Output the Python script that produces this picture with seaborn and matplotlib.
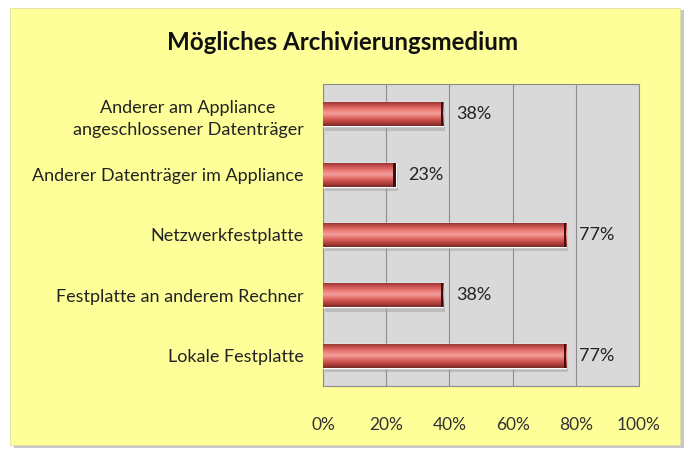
import numpy as np
import pandas as pd
import matplotlib
matplotlib.use('Agg')
import matplotlib.pyplot as plt
import seaborn as sns
from matplotlib.colors import LinearSegmentedColormap
from matplotlib.patches import Rectangle

# Chart data
categories = [
    'Anderer am Appliance\nangeschlossener Datenträger',
    'Anderer Datenträger im Appliance',
    'Netzwerkfestplatte',
    'Festplatte an anderem Rechner',
    'Lokale Festplatte',
]
shares = [38, 23, 77, 38, 77]
x_ticks = [0, 20, 40, 60, 80, 100]
x_tick_labels = ['0%', '20%', '40%', '60%', '80%', '100%']

df = pd.DataFrame({'medium': categories, 'share': shares})

sns.set_theme(style='white')
plt.rcParams['font.family'] = ['Lato', 'DejaVu Sans']

fig = plt.figure(figsize=(6.85, 4.5), dpi=100)
fig.patch.set_facecolor('white')

# yellow chart frame with a soft shadow
fig.patches.append(Rectangle((14 / 685, 2 / 450), 670 / 685, 438 / 450,
                             transform=fig.transFigure, facecolor='#c8c8c8',
                             edgecolor='none', zorder=-2))
fig.patches.append(Rectangle((10 / 685, 5 / 450), 670 / 685, 437 / 450,
                             transform=fig.transFigure, facecolor='#ffff99',
                             edgecolor='#e0e0a0', linewidth=0.6, zorder=-1))

ax = fig.add_axes([323 / 685, 64 / 450, 316 / 685, 302 / 450])
ax.set_facecolor('#d9d9d9')

sns.barplot(data=df, x='share', y='medium', ax=ax, color='#c9524e',
            width=0.4, orient='h', saturation=1, zorder=3)

# glossy bevel-like shading on each bar
cmap = LinearSegmentedColormap.from_list(
    'bevel', ['#8a302d', '#c9524e', '#ec7a76', '#f4a09c', '#e06864', '#b8423f', '#7a2a28'])
grad = np.linspace(0, 1, 64).reshape(-1, 1)
for bar in list(ax.patches):
    x0, y0 = bar.get_x(), bar.get_y()
    w, h = bar.get_width(), bar.get_height()
    # drop shadow
    ax.add_patch(Rectangle((x0 + 0.6, y0 + 0.07), w, h, facecolor='#a0a0a0',
                           edgecolor='none', alpha=0.5, zorder=2))
    img = ax.imshow(grad, cmap=cmap, aspect='auto', extent=(x0, x0 + w, y0 + h, y0),
                    zorder=4, interpolation='bicubic')
    img.set_clip_path(bar)
    # dark end cap
    ax.add_patch(Rectangle((x0 + w - 0.8, y0), 0.8, h, facecolor='#3a1010',
                           edgecolor='none', zorder=5))
    ax.text(x0 + w + 4.0, y0 + h / 2, f'{int(round(w))}%', va='center', ha='left',
            fontsize=13, color='#222222', zorder=6)

ax.set_xlim(0, 100)
ax.set_ylim(4.5, -0.5)
ax.set_xticks(x_ticks)
ax.set_xticklabels(x_tick_labels)
ax.set_xlabel('')
ax.set_ylabel('')
ax.xaxis.grid(True, color='#8c8c8c', linewidth=0.8, zorder=1)
ax.set_axisbelow(True)
ax.tick_params(axis='x', length=0, pad=22, labelsize=12.5, labelcolor='#333333')
ax.tick_params(axis='y', length=0, pad=14, labelsize=13, labelcolor='#222222')
for lbl in ax.get_yticklabels():
    lbl.set_multialignment('center')
    lbl.set_linespacing(1.45)
for s in ax.spines.values():
    s.set_color('#8c8c8c')
    s.set_linewidth(0.8)

fig.text(0.5, 1 - 42 / 450, 'Mögliches Archivierungsmedium', ha='center', va='center',
         fontsize=17.4, fontweight='bold', color='#111111')

fig.savefig('out.png', dpi=100, facecolor=fig.get_facecolor())
